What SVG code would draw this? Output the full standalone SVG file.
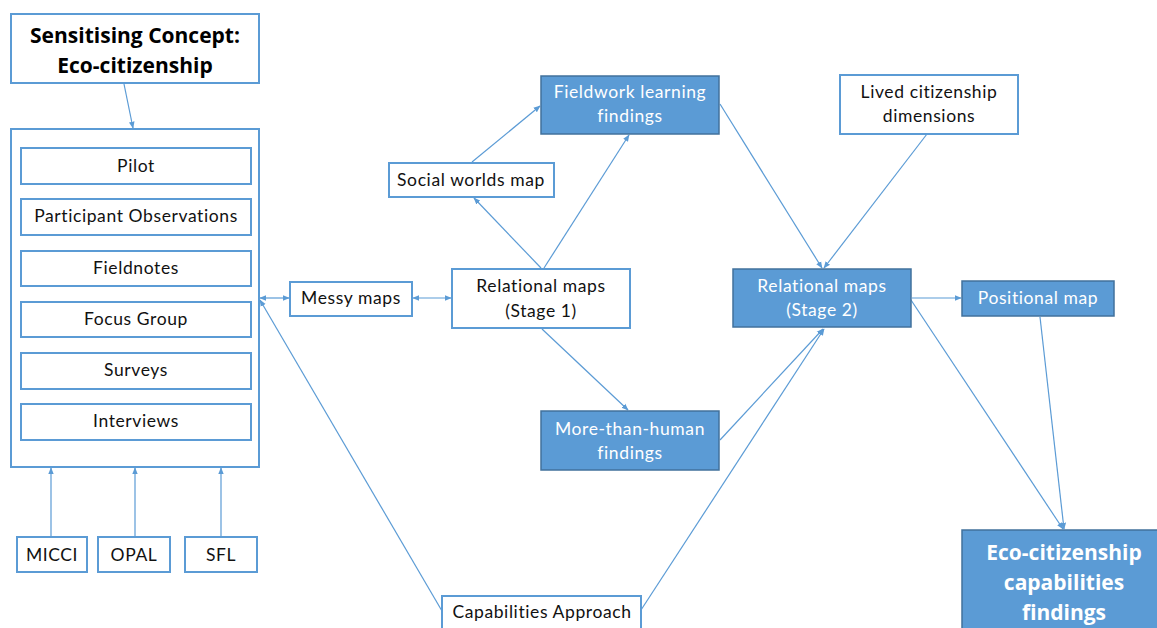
<svg xmlns="http://www.w3.org/2000/svg" width="1157" height="628" viewBox="0 0 1157 628">
<defs>
<marker id="ah" viewBox="0 0 10 10" refX="9" refY="5" markerWidth="7" markerHeight="7" orient="auto-start-reverse" markerUnits="userSpaceOnUse">
<path d="M0,1 L10,5 L0,9 z" fill="#5B9BD5"/>
</marker>
<style>
.b{fill:#fff;stroke:#5B9BD5;stroke-width:2}
.f{fill:#5B9BD5;stroke:#41719C;stroke-width:1.5}
.t{font-family:Lato,"Liberation Sans",sans-serif;font-size:17.5px;letter-spacing:0.6px;fill:#111;text-anchor:middle}
.w{font-family:Lato,"Liberation Sans",sans-serif;font-size:17.5px;letter-spacing:0.6px;fill:#fff;text-anchor:middle}
.bt{font-family:"Open Sans","Liberation Sans",sans-serif;font-size:21px;font-weight:bold;text-anchor:middle}
.c{fill:none;stroke:#5B9BD5;stroke-width:1.2}
</style>
</defs>
<rect width="1157" height="628" fill="#fff"/>
<g id="connectors">
<line class="c" x1="124" y1="84" x2="133" y2="128" marker-end="url(#ah)"/>
<line class="c" x1="51" y1="537" x2="51" y2="468" marker-end="url(#ah)"/>
<line class="c" x1="135" y1="537" x2="135" y2="468" marker-end="url(#ah)"/>
<line class="c" x1="221" y1="537" x2="221" y2="468" marker-end="url(#ah)"/>
<line class="c" x1="260" y1="298" x2="289" y2="298" marker-start="url(#ah)" marker-end="url(#ah)"/>
<line class="c" x1="413" y1="298" x2="451" y2="298" marker-start="url(#ah)" marker-end="url(#ah)"/>
<line class="c" x1="442" y1="611" x2="260" y2="300" marker-end="url(#ah)"/>
<line class="c" x1="472" y1="162" x2="540" y2="106" marker-end="url(#ah)"/>
<line class="c" x1="541" y1="268" x2="474" y2="198" marker-end="url(#ah)"/>
<line class="c" x1="544" y1="268" x2="629" y2="135" marker-end="url(#ah)"/>
<line class="c" x1="542" y1="329" x2="628" y2="410" marker-end="url(#ah)"/>
<line class="c" x1="720" y1="104" x2="822" y2="268" marker-end="url(#ah)"/>
<line class="c" x1="927" y1="134" x2="824" y2="268" marker-end="url(#ah)"/>
<line class="c" x1="720" y1="440" x2="823" y2="329" marker-end="url(#ah)"/>
<line class="c" x1="641" y1="610" x2="824" y2="329" marker-end="url(#ah)"/>
<line class="c" x1="912" y1="298" x2="961" y2="298" marker-end="url(#ah)"/>
<line class="c" x1="911" y1="300" x2="1063" y2="529" marker-end="url(#ah)"/>
<line class="c" x1="1040" y1="317" x2="1064" y2="529" marker-end="url(#ah)"/>
</g>
<g id="sensitising">
<rect class="b" x="11" y="14" width="248" height="69"/>
<text class="bt" x="135" y="43">Sensitising Concept:</text>
<text class="bt" x="135" y="73">Eco-citizenship</text>
</g>
<g id="methods">
<rect class="b" x="11" y="129" width="248" height="338"/>
</g>
<g id="pilot"><rect class="b" x="21" y="148" width="230" height="36"/><text class="t" x="136" y="172">Pilot</text></g>
<g id="participant"><rect class="b" x="21" y="199" width="230" height="36"/><text class="t" x="136" y="222">Participant Observations</text></g>
<g id="fieldnotes"><rect class="b" x="21" y="251" width="230" height="35"/><text class="t" x="136" y="274">Fieldnotes</text></g>
<g id="focus"><rect class="b" x="21" y="302" width="230" height="35"/><text class="t" x="136" y="325">Focus Group</text></g>
<g id="surveys"><rect class="b" x="21" y="353" width="230" height="36"/><text class="t" x="136" y="376">Surveys</text></g>
<g id="interviews"><rect class="b" x="21" y="404" width="230" height="36"/><text class="t" x="136" y="427">Interviews</text></g>
<g id="micci"><rect class="b" x="17" y="537" width="70" height="35"/><text class="t" x="52" y="561">MICCI</text></g>
<g id="opal"><rect class="b" x="98" y="537" width="72" height="35"/><text class="t" x="134" y="561">OPAL</text></g>
<g id="sfl"><rect class="b" x="185" y="537" width="72" height="35"/><text class="t" x="221" y="561">SFL</text></g>
<g id="messy"><rect class="b" x="290" y="282" width="122" height="34"/><text class="t" x="351" y="304">Messy maps</text></g>
<g id="rel1"><rect class="b" x="452" y="269" width="178" height="59"/><text class="t" x="541" y="292">Relational maps</text><text class="t" x="541" y="317">(Stage 1)</text></g>
<g id="social"><rect class="b" x="389" y="163" width="165" height="34"/><text class="t" x="471" y="186">Social worlds map</text></g>
<g id="fieldwork"><rect class="f" x="541" y="76" width="178" height="58"/><text class="w" x="630" y="98">Fieldwork learning</text><text class="w" x="630" y="122">findings</text></g>
<g id="lived"><rect class="b" x="840" y="75" width="178" height="59"/><text class="t" x="929" y="98">Lived citizenship</text><text class="t" x="929" y="122">dimensions</text></g>
<g id="rel2"><rect class="f" x="733" y="269" width="178" height="58"/><text class="w" x="822" y="292">Relational maps</text><text class="w" x="822" y="316">(Stage 2)</text></g>
<g id="positional"><rect class="f" x="962" y="281" width="152" height="35"/><text class="w" x="1038" y="304">Positional map</text></g>
<g id="morethanhuman"><rect class="f" x="541" y="411" width="178" height="59"/><text class="w" x="630" y="435">More-than-human</text><text class="w" x="630" y="459">findings</text></g>
<g id="capabilities"><rect class="b" x="442" y="596" width="199" height="40"/><text class="t" x="542" y="618">Capabilities Approach</text></g>
<g id="ecofindings"><rect class="f" x="962" y="530" width="200" height="102"/>
<text class="bt" x="1064" y="560" fill="#fff">Eco-citizenship</text>
<text class="bt" x="1064" y="590" fill="#fff">capabilities</text>
<text class="bt" x="1064" y="620" fill="#fff">findings</text></g>
</svg>
